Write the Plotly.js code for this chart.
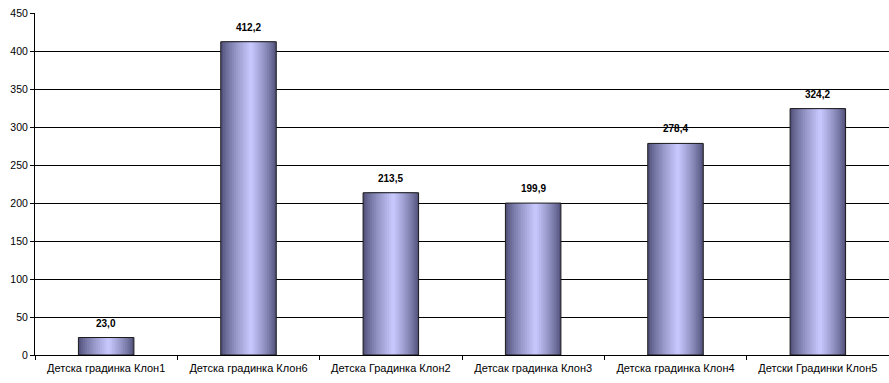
<!DOCTYPE html>
<html>
<head>
<meta charset="utf-8">
<script src="https://cdn.plot.ly/plotly-3.0.1.min.js"></script>
<style>html,body{margin:0;padding:0;background:#fff;}#chart{width:889px;height:383px;}</style>
</head>
<body>
<div id="chart"></div>
<script>
const categories = ["Детска градинка Клон1", "Детска градинка Клон6", "Детска Градинка Клон2", "Детсак градинка Клон3", "Детска градинка Клон4", "Детски Градинки Клон5"];
const values = [23.0, 412.2, 213.5, 199.9, 278.4, 324.2];
const yTicks = [0, 50, 100, 150, 200, 250, 300, 350, 400, 450];

const W = 0.39;
const N = 14;
const dark = [82, 82, 124];
const light = [198, 198, 252];
const traces = [];
for (let k = 0; k < N; k++) {
  const t = k / (N - 1);
  const w = W * (1 - 0.93 * t);
  const center = 0.04 * W * t;
  const c = dark.map((d, i) => Math.round(d + (light[i] - d) * Math.pow(t, 0.8)));
  traces.push({
    type: 'bar',
    x: categories,
    y: values,
    width: w,
    offset: -w / 2 + center,
    marker: {color: 'rgb(' + c.join(',') + ')', line: {width: 0}},
    hoverinfo: 'skip',
    showlegend: false
  });
}
traces.push({
  type: 'bar', x: categories, y: values, width: W, offset: -W / 2,
  marker: {color: 'rgba(0,0,0,0)', line: {color: '#1a1a1a', width: 1}},
  hoverinfo: 'skip', showlegend: false
});

const annotations = categories.map((c, i) => ({
  x: c, y: values[i], xref: 'x', yref: 'y',
  text: values[i].toFixed(1).replace('.', ','),
  showarrow: false, yanchor: 'bottom', yshift: 7,
  font: {family: 'Liberation Sans, Arial, sans-serif', size: 10, color: '#000', weight: 'bold'}
}));

const layout = {
  width: 889, height: 383,
  margin: {l: 35, r: 0, t: 13, b: 28, pad: 0},
  paper_bgcolor: '#fff', plot_bgcolor: '#fff',
  barmode: 'overlay',
  showlegend: false,
  annotations: annotations,
  font: {family: 'Liberation Sans, Arial, sans-serif', size: 10, color: '#000'},
  xaxis: {
    type: 'category',
    showgrid: false,
    showline: true, linecolor: '#000', linewidth: 1,
    ticks: 'outside', tickson: 'boundaries', ticklen: 4, tickcolor: '#000',
    ticklabelstandoff: 3,
    tickfont: {size: 11, color: '#000'},
    fixedrange: true
  },
  yaxis: {
    range: [0, 450],
    tickvals: yTicks,
    ticktext: yTicks.map(String),
    showgrid: true, gridcolor: '#000', gridwidth: 1,
    showline: true, linecolor: '#000', linewidth: 1,
    ticks: 'outside', ticklen: 4, tickcolor: '#000',
    tickfont: {size: 10.5, color: '#000'},
    zeroline: false,
    fixedrange: true
  }
};
Plotly.newPlot('chart', traces, layout, {displayModeBar: false, staticPlot: true});
</script>
</body>
</html>
